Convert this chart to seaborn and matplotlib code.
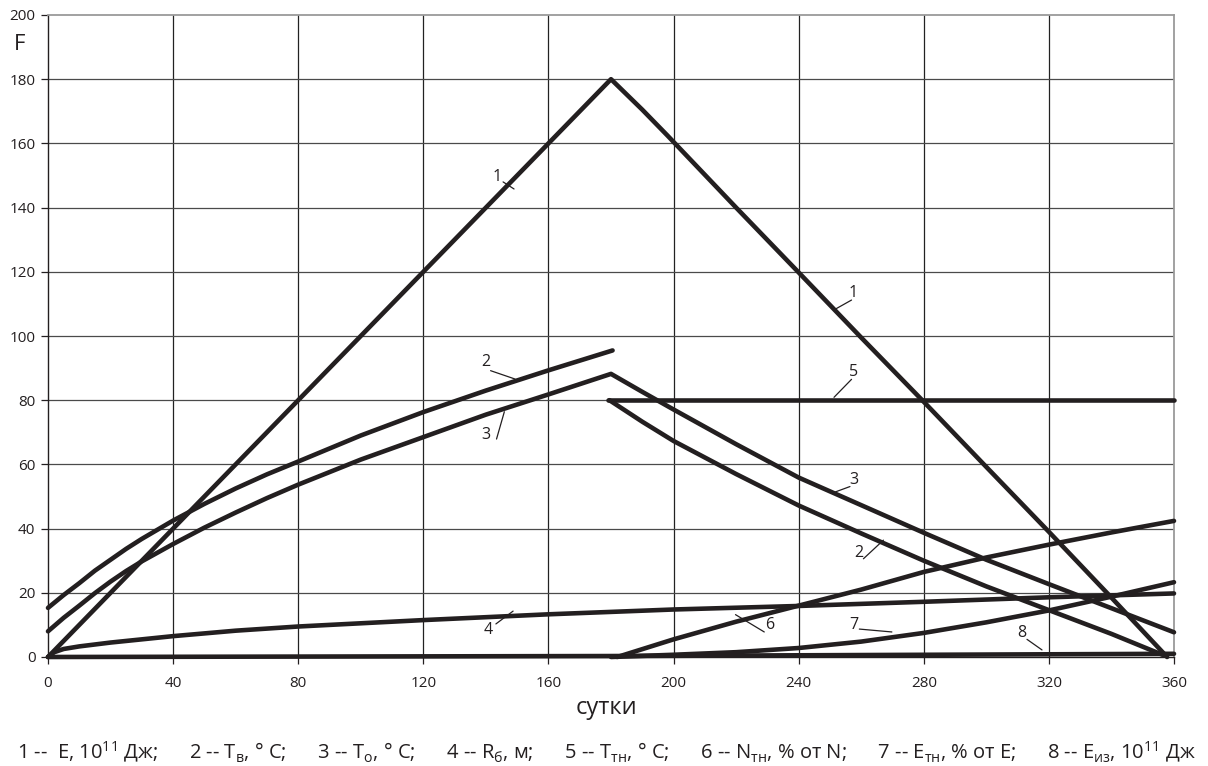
import matplotlib
matplotlib.use("Agg")
import matplotlib.pyplot as plt
import seaborn as sns

# ---- data ----
x_1 = [0, 40, 80, 120, 160, 180, 190, 198, 220, 240, 260, 280, 300, 320, 340, 357.8]
y_1 = [0, 40, 80, 120, 160, 180, 170.5, 162.5, 140, 119.8, 99.5, 79.5, 59.2, 39, 18.5, 0]

x_2a = [0, 5, 10, 15, 20, 25, 30, 40, 50, 60, 70, 80, 100, 120, 140, 160, 180.5]
y_2a = [15.3, 19.3, 23, 26.9, 30.3, 33.7, 36.8, 42.5, 47.7, 52.5, 56.9, 60.9,
        69, 76.3, 83, 89.3, 95.5]
x_2b = [179.5, 190, 200, 220, 240, 260, 280, 300, 320, 340, 356.8]
y_2b = [80, 73.3, 67.3, 57, 47.2, 38.5, 30, 22, 14.6, 7.2, 0.5]

x_3 = [0, 5, 10, 15, 20, 25, 30, 40, 50, 60, 70, 80, 100, 120, 140, 160, 180,
       190, 200, 220, 240, 260, 280, 300, 320, 340, 360]
y_3 = [8, 12.2, 16, 19.9, 23.5, 26.8, 29.8, 35.2, 40.3, 45, 49.5, 53.7, 61.5,
       68.5, 75.5, 81.8, 88.2, 82.6, 77.1, 66.3, 55.9, 47.3, 38.7, 30.3, 22.7, 15.2, 7.7]

x_4 = [0, 2, 5, 10, 20, 40, 60, 80, 120, 160, 200, 240, 280, 320, 360]
y_4 = [0, 1.5, 2.5, 3.3, 4.5, 6.5, 8.2, 9.5, 11.5, 13.3, 14.8, 15.9, 17.2, 18.6, 19.8]

x_5 = [179, 360]
y_5 = [80, 80]

x_6 = [182, 200, 220, 240, 260, 280, 300, 320, 340, 360]
y_6 = [0, 5.5, 11, 16, 21, 26.5, 31, 35, 38.8, 42.4]

x_7 = [180, 200, 220, 240, 260, 280, 300, 320, 340, 360]
y_7 = [0, 0.7, 1.5, 2.8, 4.8, 7.5, 10.8, 14.5, 18.8, 23.3]

x_8 = [0, 180, 360]
y_8 = [0, 0.3, 1.0]

x_ticks = [0, 40, 80, 120, 160, 200, 240, 280, 320, 360]
y_ticks = [0, 20, 40, 60, 80, 100, 120, 140, 160, 180, 200]

SEP = "      "
legend_items = [
    r"1 --  E, 10$^{11}$ Дж;",
    r"2 -- T$_{\mathrm{в}}$, ° C;",
    r"3 -- T$_{\mathrm{о}}$, ° C;",
    r"4 -- R$_{\mathrm{б}}$, м;",
    r"5 -- T$_{\mathrm{тн}}$, ° C;",
    r"6 -- N$_{\mathrm{тн}}$, % от N;",
    r"7 -- E$_{\mathrm{тн}}$, % от E;",
    r"8 -- E$_{\mathrm{из}}$, 10$^{11}$ Дж",
]
legend_text = SEP.join(legend_items)

series = [(x_1, y_1), (x_2a, y_2a), (x_2b, y_2b), (x_3, y_3), (x_4, y_4),
          (x_5, y_5), (x_6, y_6), (x_7, y_7), (x_8, y_8)]

# ---- style ----
sns.set_style("white")
plt.rcParams["font.family"] = ["Open Sans", "DejaVu Sans"]
plt.rcParams["mathtext.fontset"] = "custom"
plt.rcParams["mathtext.rm"] = "Open Sans"
plt.rcParams["mathtext.it"] = "Open Sans:italic"
plt.rcParams["mathtext.bf"] = "Open Sans:bold"

INK = "#231f20"

fig = plt.figure(figsize=(12.08, 7.66), dpi=100)
ax = fig.add_axes([48 / 1208, 1 - 657 / 766, (1174 - 48) / 1208, (657 - 15) / 766])

# grid
for xv in x_ticks[1:-1]:
    ax.axvline(xv, color="#222222", lw=0.9, zorder=1)
for yv in y_ticks[1:-1]:
    ax.axhline(yv, color="#4a4a4a", lw=0.9, zorder=1)

for xs, ys in series:
    sns.lineplot(x=xs, y=ys, ax=ax, color=INK, lw=3.3, sort=False,
                 estimator=None, zorder=3, clip_on=False)

ax.set_xlim(0, 360)
ax.set_ylim(0, 200)
ax.set_xticks(x_ticks)
ax.set_yticks(y_ticks)
ax.tick_params(axis="both", direction="out", length=5, width=0.9, color=INK,
               labelsize=11, labelcolor=INK)
ax.tick_params(axis="x", pad=9)
ax.tick_params(axis="y", pad=4)
ax.tick_params(bottom=True, left=True)

for s in ["top", "right"]:
    ax.spines[s].set_color("#9a9a9a")
    ax.spines[s].set_linewidth(1.3)
for s in ["left", "bottom"]:
    ax.spines[s].set_color(INK)
    ax.spines[s].set_linewidth(1.0)

# curve labels with leader lines
labels = [
    ("1", 143.5, 149.5, (145.5, 148.0), (149.0, 145.8)),
    ("1", 257.4, 113.5, (256.9, 111.2), (251.6, 108.3)),
    ("2", 139.9, 92.0, (141.5, 89.2), (149.3, 86.6)),
    ("3", 140.0, 69.2, (143.4, 67.9), (145.9, 76.4)),
    ("5", 257.4, 88.9, (256.9, 86.5), (251.3, 80.9)),
    ("3", 257.5, 55.1, (256.4, 53.1), (251.1, 51.2)),
    ("2", 259.1, 32.5, (260.7, 30.6), (267.1, 36.4)),
    ("4", 140.7, 8.4, (143.2, 10.3), (148.7, 14.3)),
    ("6", 230.7, 9.9, (229.0, 7.8), (219.8, 13.2)),
    ("7", 257.6, 10.1, (259.4, 8.7), (269.8, 7.8)),
    ("8", 311.5, 7.6, (313.0, 5.5), (317.8, 2.2)),
]
for t, tx, ty, p0, p1 in labels:
    ax.text(tx, ty, t, fontsize=11.5, color=INK, ha="center", va="center", zorder=4)
    ax.plot([p0[0], p1[0]], [p0[1], p1[1]], color=INK, lw=0.9, zorder=4)

fig.text(14 / 1208, 1 - 45 / 766, "F", fontsize=16, color=INK, ha="left", va="center")
fig.text(606 / 1208, 1 - 708 / 766, "сутки", fontsize=17, color=INK, ha="center", va="center")
fig.text(606 / 1208, 1 - 752 / 766, legend_text, fontsize=14.5, color=INK,
         ha="center", va="center")

fig.savefig("out.png", dpi=100)
